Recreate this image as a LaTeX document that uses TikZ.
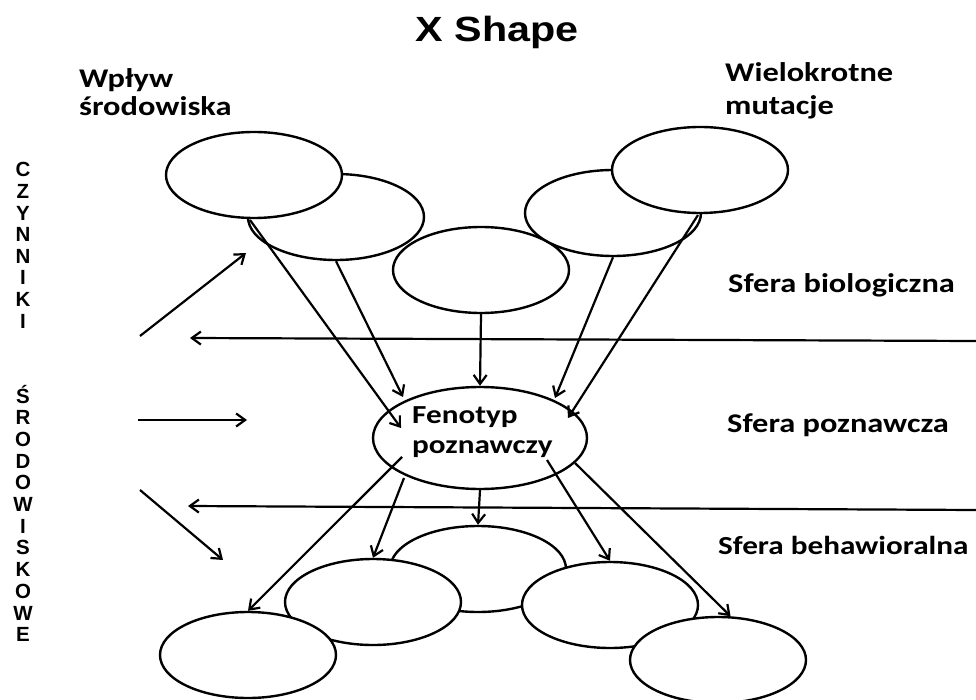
\documentclass[tikz,border=0pt]{standalone}
\usepackage{fontspec}
\setmainfont{Carlito}[FakeStretch=1.2]
\newfontfamily\titlefont{Liberation Sans}[FakeStretch=1.18]
\newfontfamily\sidefont{Liberation Sans}
\usetikzlibrary{shapes.geometric,arrows.meta}
\begin{document}
\begin{tikzpicture}[x=1pt,y=-1pt,
  oval/.style={ellipse,draw,fill=white,line width=2.4pt,inner sep=0pt,minimum width=176pt,minimum height=86pt},
  conn/.style={line width=2.2pt,-{Straight Barb[length=9pt,width=13pt]}},
  lbl/.style={font=\bfseries\fontsize{27}{30}\selectfont,inner sep=0pt,anchor=base west},
  side/.style={font=\sidefont\bfseries\fontsize{20.5}{22}\selectfont,inner sep=0pt,anchor=base},
]
\useasboundingbox[fill=white] (0,0) rectangle (976,700);

% title
\node[font=\titlefont\bfseries\fontsize{35}{40}\selectfont,inner sep=0pt,anchor=base] (title) at (497,42) {X Shape};

% labels
\node[lbl] (wp1) at (79,88) {Wpływ};
\node[lbl] (wp2) at (79,116) {środowiska};
\node[lbl] (wm1) at (725,82) {Wielokrotne};
\node[lbl] (wm2) at (725,115) {mutacje};
\node[lbl] (sb) at (728,293) {Sfera biologiczna};
\node[lbl] (sp) at (727,432) {Sfera poznawcza};
\node[lbl,font=\bfseries\fontsize{26}{30}\selectfont] (sh) at (718,554) {Sfera behawioralna};

% vertical side text
\foreach \ch [count=\i from 0] in {C,Z,Y,N,N,I,K,I}
  \node[side] (s1-\i) at (23,177+21.6*\i) {\ch};
\foreach \ch [count=\i from 0] in {Ś,R,O,D,O,W,I,S,K,O,W,E}
  \node[side] (s2-\i) at (23,403+21.7*\i) {\ch};

% top ellipses
\node[oval] (E3) at (481,270) {};
\node[oval] (E2) at (336,217) {};
\node[oval] (E1) at (254,175) {};
\node[oval] (E4) at (613,213) {};
\node[oval] (E5) at (700,170) {};

% phenotype
\node[oval,minimum width=214pt,minimum height=102pt] (F) at (480,438) {};
\node[lbl,font=\bfseries\fontsize{26}{30}\selectfont] (ft1) at (412,423) {Fenotyp};
\node[lbl,font=\bfseries\fontsize{26}{30}\selectfont] (ft2) at (412,453) {poznawczy};

% bottom ellipses
\node[oval] (B1) at (478,569) {};
\node[oval] (B2) at (373,602) {};
\node[oval] (B3) at (610,605) {};
\node[oval] (B4) at (248,655) {};
\node[oval] (B5) at (718,660) {};

% horizontal sphere borders
\coordinate (h1r) at (976,341);
\coordinate (h1l) at (190,338);
\coordinate (h2r) at (976,510);
\coordinate (h2l) at (188,506);
\draw[conn] (h1r) -- (h1l);
\draw[conn] (h2r) -- (h2l);

% left environmental arrows
\coordinate (a1s) at (140,336);
\coordinate (a1e) at (246,253);
\coordinate (a2s) at (138,420);
\coordinate (a2e) at (247,420);
\coordinate (a3s) at (140,490);
\coordinate (a3e) at (223,560);
\draw[conn] (a1s) -- (a1e);
\draw[conn] (a2s) -- (a2e);
\draw[conn] (a3s) -- (a3e);

% top to phenotype
\draw[conn] ([shift={(-4,45)}]E1.center) -- ([shift={(-79,-10)}]F.center);
\draw[conn] (E2.south) -- ([shift={(-77,-41)}]F.center);
\draw[conn] (E3.south) -- (F.north);
\draw[conn] (E4.south) -- ([shift={(75,-40)}]F.center);
\draw[conn] ([shift={(-2,45)}]E5.center) -- ([shift={(88,-20)}]F.center);

% phenotype to bottom
\draw[conn] (F.south) -- (B1.north);
\draw[conn] ([shift={(-76,40)}]F.center) -- (B2.north);
\draw[conn] ([shift={(-78,19)}]F.center) -- (B4.north);
\draw[conn] ([shift={(67,22)}]F.center) -- (B3.north);
\draw[conn] ([shift={(95,25)}]F.center) -- (B5.74);
\end{tikzpicture}
\end{document}
